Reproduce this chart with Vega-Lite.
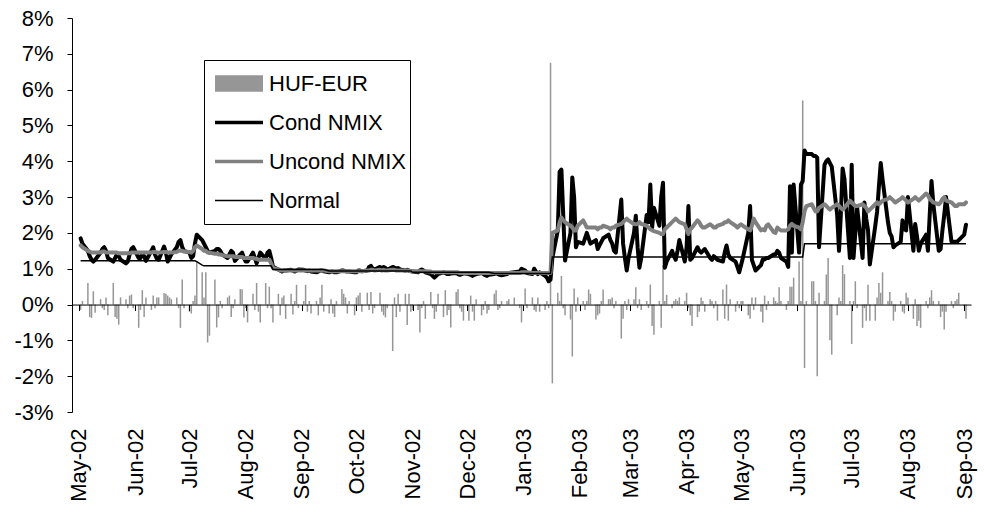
{
"$schema":"https://vega.github.io/schema/vega-lite/v6.json",
"width":899,"height":394,
"autosize":{"type":"none"},
"padding":{"left":72,"top":18,"right":14,"bottom":113},
"background":"white",
"config":{"view":{"stroke":null},"font":"Liberation Sans","axis":{"grid":false,"labelFont":"Liberation Sans","labelColor":"black"},"axisY":{"labelOverlap":false,"labelFlush":false,"labelBound":false}},
"data":{"values":[
{"d":"2002-05-02","r":-0.15,"c":1.85,"u":1.65,"n":1.22},
{"d":"2002-05-03","r":0.1,"c":1.7,"u":1.6,"n":1.22},
{"d":"2002-05-06","r":0.6,"c":1.5,"u":1.5,"n":1.22},
{"d":"2002-05-07","r":-0.35,"c":1.35,"u":1.48,"n":1.22},
{"d":"2002-05-08","r":-0.37,"c":1.25,"u":1.45,"n":1.22},
{"d":"2002-05-09","r":0.37,"c":1.2,"u":1.45,"n":1.22},
{"d":"2002-05-10","r":-0.23,"c":1.25,"u":1.45,"n":1.22},
{"d":"2002-05-13","r":0.15,"c":1.45,"u":1.45,"n":1.22},
{"d":"2002-05-14","r":-0.1,"c":1.55,"u":1.48,"n":1.22},
{"d":"2002-05-15","r":-0.15,"c":1.6,"u":1.48,"n":1.22},
{"d":"2002-05-16","r":0.2,"c":1.5,"u":1.45,"n":1.22},
{"d":"2002-05-17","r":-0.3,"c":1.3,"u":1.45,"n":1.22},
{"d":"2002-05-20","r":0.6,"c":1.2,"u":1.45,"n":1.22},
{"d":"2002-05-21","r":-0.35,"c":1.3,"u":1.45,"n":1.22},
{"d":"2002-05-22","r":-0.4,"c":1.4,"u":1.45,"n":1.22},
{"d":"2002-05-23","r":-0.56,"c":1.35,"u":1.43,"n":1.22},
{"d":"2002-05-24","r":0.2,"c":1.25,"u":1.43,"n":1.22},
{"d":"2002-05-27","r":0.15,"c":1.15,"u":1.43,"n":1.22},
{"d":"2002-05-28","r":-0.1,"c":1.2,"u":1.43,"n":1.22},
{"d":"2002-05-29","r":0.25,"c":1.4,"u":1.43,"n":1.22},
{"d":"2002-05-30","r":0.28,"c":1.55,"u":1.45,"n":1.22},
{"d":"2002-05-31","r":-0.1,"c":1.6,"u":1.45,"n":1.22},
{"d":"2002-06-03","r":-0.65,"c":1.3,"u":1.45,"n":1.22},
{"d":"2002-06-04","r":-0.15,"c":1.3,"u":1.45,"n":1.22},
{"d":"2002-06-05","r":0.4,"c":1.42,"u":1.45,"n":1.22},
{"d":"2002-06-06","r":-0.35,"c":1.35,"u":1.45,"n":1.22},
{"d":"2002-06-07","r":0.2,"c":1.22,"u":1.45,"n":1.22},
{"d":"2002-06-10","r":-0.15,"c":1.5,"u":1.45,"n":1.22},
{"d":"2002-06-11","r":0.25,"c":1.6,"u":1.47,"n":1.22},
{"d":"2002-06-12","r":-0.1,"c":1.4,"u":1.47,"n":1.22},
{"d":"2002-06-13","r":0.2,"c":1.28,"u":1.45,"n":1.22},
{"d":"2002-06-14","r":0.2,"c":1.25,"u":1.45,"n":1.22},
{"d":"2002-06-17","r":0.32,"c":1.62,"u":1.47,"n":1.22},
{"d":"2002-06-18","r":0.3,"c":1.45,"u":1.47,"n":1.22},
{"d":"2002-06-19","r":0.25,"c":1.2,"u":1.45,"n":1.22},
{"d":"2002-06-20","r":0.2,"c":1.3,"u":1.45,"n":1.22},
{"d":"2002-06-21","r":0.15,"c":1.4,"u":1.45,"n":1.22},
{"d":"2002-06-24","r":0.2,"c":1.6,"u":1.47,"n":1.22},
{"d":"2002-06-25","r":-0.1,"c":1.75,"u":1.5,"n":1.22},
{"d":"2002-06-26","r":-0.65,"c":1.8,"u":1.5,"n":1.22},
{"d":"2002-06-27","r":0.7,"c":1.6,"u":1.5,"n":1.22},
{"d":"2002-06-28","r":-0.1,"c":1.5,"u":1.48,"n":1.22},
{"d":"2002-07-01","r":-0.2,"c":1.45,"u":1.47,"n":1.22},
{"d":"2002-07-02","r":-0.25,"c":1.3,"u":1.45,"n":1.22},
{"d":"2002-07-03","r":0.1,"c":1.35,"u":1.5,"n":1.22},
{"d":"2002-07-04","r":0.25,"c":1.7,"u":1.6,"n":1.22},
{"d":"2002-07-05","r":1.2,"c":1.95,"u":1.65,"n":1.2},
{"d":"2002-07-08","r":0.9,"c":1.8,"u":1.55,"n":1.1},
{"d":"2002-07-09","r":0.2,"c":1.7,"u":1.5,"n":1.08},
{"d":"2002-07-10","r":0.9,"c":1.6,"u":1.5,"n":1.08},
{"d":"2002-07-11","r":-1.06,"c":1.5,"u":1.45,"n":1.08},
{"d":"2002-07-12","r":-0.87,"c":1.45,"u":1.45,"n":1.08},
{"d":"2002-07-15","r":0.7,"c":1.5,"u":1.42,"n":1.08},
{"d":"2002-07-16","r":-0.64,"c":1.55,"u":1.42,"n":1.08},
{"d":"2002-07-17","r":-0.36,"c":1.55,"u":1.4,"n":1.08},
{"d":"2002-07-18","r":0.1,"c":1.5,"u":1.4,"n":1.08},
{"d":"2002-07-19","r":-0.1,"c":1.4,"u":1.38,"n":1.08},
{"d":"2002-07-22","r":0.2,"c":1.3,"u":1.35,"n":1.08},
{"d":"2002-07-23","r":0.25,"c":1.4,"u":1.35,"n":1.08},
{"d":"2002-07-24","r":-0.35,"c":1.5,"u":1.35,"n":1.08},
{"d":"2002-07-25","r":-0.1,"c":1.45,"u":1.35,"n":1.08},
{"d":"2002-07-26","r":0.15,"c":1.22,"u":1.33,"n":1.08},
{"d":"2002-07-29","r":0.43,"c":1.4,"u":1.33,"n":1.08},
{"d":"2002-07-30","r":0.43,"c":1.45,"u":1.33,"n":1.08},
{"d":"2002-07-31","r":-0.36,"c":1.3,"u":1.3,"n":1.08},
{"d":"2002-08-01","r":-0.1,"c":1.2,"u":1.3,"n":1.08},
{"d":"2002-08-02","r":-0.5,"c":1.2,"u":1.3,"n":1.08},
{"d":"2002-08-05","r":0.3,"c":1.45,"u":1.3,"n":1.08},
{"d":"2002-08-06","r":-0.15,"c":1.3,"u":1.28,"n":1.08},
{"d":"2002-08-07","r":0.6,"c":1.15,"u":1.28,"n":1.08},
{"d":"2002-08-08","r":-0.2,"c":1.3,"u":1.25,"n":1.08},
{"d":"2002-08-09","r":-0.5,"c":1.45,"u":1.25,"n":1.08},
{"d":"2002-08-12","r":0.6,"c":1.28,"u":1.25,"n":1.08},
{"d":"2002-08-13","r":-0.1,"c":1.45,"u":1.25,"n":1.08},
{"d":"2002-08-14","r":0.5,"c":1.5,"u":1.25,"n":1.08},
{"d":"2002-08-15","r":-0.1,"c":1.3,"u":1.15,"n":1.08},
{"d":"2002-08-16","r":-0.5,"c":1.05,"u":1.02,"n":0.98},
{"d":"2002-08-19","r":0.3,"c":0.98,"u":0.98,"n":0.98},
{"d":"2002-08-20","r":-0.3,"c":0.95,"u":0.95,"n":0.98},
{"d":"2002-08-21","r":0.2,"c":0.92,"u":0.95,"n":0.98},
{"d":"2002-08-22","r":0.25,"c":0.95,"u":0.95,"n":0.98},
{"d":"2002-08-23","r":-0.4,"c":0.95,"u":0.95,"n":0.98},
{"d":"2002-08-26","r":0.3,"c":0.97,"u":0.95,"n":0.98},
{"d":"2002-08-27","r":-0.28,"c":0.95,"u":0.95,"n":0.98},
{"d":"2002-08-28","r":0.1,"c":0.92,"u":0.95,"n":0.98},
{"d":"2002-08-29","r":0.55,"c":0.95,"u":0.95,"n":0.98},
{"d":"2002-08-30","r":-0.1,"c":0.98,"u":0.95,"n":0.98},
{"d":"2002-09-02","r":0.1,"c":0.97,"u":0.95,"n":0.98},
{"d":"2002-09-03","r":0.55,"c":0.95,"u":0.95,"n":0.98},
{"d":"2002-09-04","r":-0.2,"c":0.93,"u":0.95,"n":0.98},
{"d":"2002-09-05","r":0.1,"c":0.95,"u":0.95,"n":0.98},
{"d":"2002-09-06","r":-0.25,"c":0.92,"u":0.95,"n":0.98},
{"d":"2002-09-09","r":0.1,"c":0.9,"u":0.95,"n":0.98},
{"d":"2002-09-10","r":-0.3,"c":0.92,"u":0.95,"n":0.98},
{"d":"2002-09-11","r":0.2,"c":0.95,"u":0.95,"n":0.98},
{"d":"2002-09-12","r":0.55,"c":0.95,"u":0.95,"n":0.98},
{"d":"2002-09-13","r":-0.2,"c":0.93,"u":0.95,"n":0.98},
{"d":"2002-09-16","r":-0.25,"c":0.9,"u":0.93,"n":0.94},
{"d":"2002-09-17","r":0.15,"c":0.92,"u":0.93,"n":0.94},
{"d":"2002-09-18","r":-0.25,"c":0.92,"u":0.93,"n":0.94},
{"d":"2002-09-19","r":-0.35,"c":0.9,"u":0.93,"n":0.94},
{"d":"2002-09-20","r":0.1,"c":0.9,"u":0.93,"n":0.94},
{"d":"2002-09-23","r":0.43,"c":0.95,"u":0.93,"n":0.94},
{"d":"2002-09-24","r":0.3,"c":0.95,"u":0.93,"n":0.94},
{"d":"2002-09-25","r":0.2,"c":0.93,"u":0.93,"n":0.94},
{"d":"2002-09-26","r":-0.25,"c":0.92,"u":0.93,"n":0.94},
{"d":"2002-09-27","r":0.1,"c":0.92,"u":0.93,"n":0.94},
{"d":"2002-09-30","r":-0.3,"c":0.9,"u":0.93,"n":0.94},
{"d":"2002-10-01","r":0.2,"c":0.9,"u":0.93,"n":0.94},
{"d":"2002-10-02","r":0.25,"c":0.95,"u":0.93,"n":0.94},
{"d":"2002-10-03","r":0.33,"c":0.95,"u":0.93,"n":0.94},
{"d":"2002-10-04","r":-0.2,"c":0.93,"u":0.93,"n":0.94},
{"d":"2002-10-07","r":0.33,"c":0.95,"u":0.95,"n":0.94},
{"d":"2002-10-08","r":-0.15,"c":1.05,"u":0.95,"n":0.94},
{"d":"2002-10-09","r":0.35,"c":1.08,"u":0.97,"n":0.94},
{"d":"2002-10-10","r":-0.25,"c":1.0,"u":0.97,"n":0.94},
{"d":"2002-10-11","r":-0.1,"c":0.98,"u":0.95,"n":0.94},
{"d":"2002-10-14","r":0.33,"c":1.05,"u":0.97,"n":0.94},
{"d":"2002-10-15","r":-0.2,"c":1.0,"u":0.95,"n":0.94},
{"d":"2002-10-16","r":-0.3,"c":1.05,"u":0.97,"n":0.94},
{"d":"2002-10-17","r":-0.36,"c":1.02,"u":0.95,"n":0.94},
{"d":"2002-10-18","r":-0.1,"c":0.97,"u":0.95,"n":0.94},
{"d":"2002-10-21","r":-1.3,"c":1.05,"u":0.97,"n":0.94},
{"d":"2002-10-22","r":0.2,"c":1.03,"u":0.97,"n":0.94},
{"d":"2002-10-23","r":-0.35,"c":1.0,"u":0.95,"n":0.94},
{"d":"2002-10-24","r":0.3,"c":1.02,"u":0.95,"n":0.94},
{"d":"2002-10-25","r":-0.2,"c":0.98,"u":0.95,"n":0.94},
{"d":"2002-10-28","r":0.3,"c":0.95,"u":0.95,"n":0.94},
{"d":"2002-10-29","r":-0.57,"c":0.97,"u":0.95,"n":0.94},
{"d":"2002-10-30","r":0.3,"c":0.95,"u":0.95,"n":0.94},
{"d":"2002-10-31","r":-0.2,"c":0.93,"u":0.93,"n":0.94},
{"d":"2002-11-01","r":-0.15,"c":0.92,"u":0.93,"n":0.9},
{"d":"2002-11-04","r":-0.15,"c":0.9,"u":0.93,"n":0.9},
{"d":"2002-11-05","r":-0.78,"c":0.95,"u":0.93,"n":0.9},
{"d":"2002-11-06","r":-0.1,"c":0.98,"u":0.93,"n":0.9},
{"d":"2002-11-07","r":0.1,"c":0.95,"u":0.93,"n":0.9},
{"d":"2002-11-08","r":-0.4,"c":0.9,"u":0.93,"n":0.9},
{"d":"2002-11-11","r":0.35,"c":0.85,"u":0.92,"n":0.9},
{"d":"2002-11-12","r":-0.1,"c":0.8,"u":0.9,"n":0.9},
{"d":"2002-11-13","r":-0.4,"c":0.75,"u":0.9,"n":0.9},
{"d":"2002-11-14","r":-0.2,"c":0.8,"u":0.9,"n":0.9},
{"d":"2002-11-15","r":0.3,"c":0.85,"u":0.9,"n":0.9},
{"d":"2002-11-18","r":-0.35,"c":0.9,"u":0.9,"n":0.9},
{"d":"2002-11-19","r":0.4,"c":0.88,"u":0.9,"n":0.9},
{"d":"2002-11-20","r":-0.3,"c":0.85,"u":0.9,"n":0.9},
{"d":"2002-11-21","r":-0.15,"c":0.85,"u":0.9,"n":0.9},
{"d":"2002-11-22","r":-0.64,"c":0.87,"u":0.9,"n":0.9},
{"d":"2002-11-25","r":0.35,"c":0.88,"u":0.9,"n":0.9},
{"d":"2002-11-26","r":0.43,"c":0.85,"u":0.9,"n":0.9},
{"d":"2002-11-27","r":-0.1,"c":0.83,"u":0.88,"n":0.9},
{"d":"2002-11-28","r":-0.2,"c":0.85,"u":0.88,"n":0.9},
{"d":"2002-11-29","r":-0.45,"c":0.87,"u":0.88,"n":0.9},
{"d":"2002-12-02","r":-0.45,"c":0.85,"u":0.88,"n":0.9},
{"d":"2002-12-03","r":0.25,"c":0.83,"u":0.88,"n":0.9},
{"d":"2002-12-04","r":-0.2,"c":0.8,"u":0.88,"n":0.9},
{"d":"2002-12-05","r":-0.45,"c":0.83,"u":0.88,"n":0.9},
{"d":"2002-12-06","r":0.15,"c":0.85,"u":0.88,"n":0.9},
{"d":"2002-12-09","r":-0.3,"c":0.88,"u":0.88,"n":0.9},
{"d":"2002-12-10","r":-0.15,"c":0.85,"u":0.88,"n":0.9},
{"d":"2002-12-11","r":0.1,"c":0.82,"u":0.88,"n":0.9},
{"d":"2002-12-12","r":-0.25,"c":0.8,"u":0.88,"n":0.9},
{"d":"2002-12-13","r":-0.15,"c":0.83,"u":0.88,"n":0.9},
{"d":"2002-12-16","r":0.3,"c":0.85,"u":0.88,"n":0.87},
{"d":"2002-12-17","r":0.4,"c":0.88,"u":0.88,"n":0.87},
{"d":"2002-12-18","r":-0.15,"c":0.85,"u":0.88,"n":0.87},
{"d":"2002-12-19","r":-0.1,"c":0.83,"u":0.88,"n":0.87},
{"d":"2002-12-20","r":0.1,"c":0.82,"u":0.88,"n":0.87},
{"d":"2002-12-23","r":0.1,"c":0.85,"u":0.88,"n":0.87},
{"d":"2002-12-24","r":0.15,"c":0.88,"u":0.88,"n":0.87},
{"d":"2002-12-27","r":0.2,"c":0.9,"u":0.88,"n":0.87},
{"d":"2002-12-30","r":-0.1,"c":0.92,"u":0.88,"n":0.87},
{"d":"2002-12-31","r":-0.5,"c":1.0,"u":0.9,"n":0.87},
{"d":"2003-01-02","r":0.45,"c":0.95,"u":0.9,"n":0.87},
{"d":"2003-01-03","r":-0.1,"c":0.88,"u":0.9,"n":0.87},
{"d":"2003-01-06","r":0.2,"c":0.85,"u":0.88,"n":0.87},
{"d":"2003-01-07","r":-0.15,"c":1.0,"u":0.88,"n":0.87},
{"d":"2003-01-08","r":-0.2,"c":0.92,"u":0.88,"n":0.87},
{"d":"2003-01-09","r":0.2,"c":0.85,"u":0.88,"n":0.87},
{"d":"2003-01-10","r":-0.2,"c":0.9,"u":0.88,"n":0.87},
{"d":"2003-01-13","r":-0.15,"c":0.8,"u":0.88,"n":0.87},
{"d":"2003-01-14","r":0.1,"c":0.75,"u":0.88,"n":0.87},
{"d":"2003-01-15","r":-0.1,"c":0.65,"u":0.88,"n":0.87},
{"d":"2003-01-16","r":6.75,"c":0.7,"u":0.88,"n":0.87},
{"d":"2003-01-17","r":-2.2,"c":1.3,"u":2.0,"n":1.33},
{"d":"2003-01-20","r":0.33,"c":2.07,"u":2.07,"n":1.33},
{"d":"2003-01-21","r":0.1,"c":3.7,"u":2.3,"n":1.33},
{"d":"2003-01-22","r":0.8,"c":3.77,"u":2.43,"n":1.33},
{"d":"2003-01-23","r":-0.1,"c":2.5,"u":2.35,"n":1.33},
{"d":"2003-01-24","r":-0.3,"c":1.23,"u":2.3,"n":1.33},
{"d":"2003-01-27","r":-0.42,"c":2.0,"u":2.2,"n":1.33},
{"d":"2003-01-28","r":-1.45,"c":3.55,"u":2.15,"n":1.33},
{"d":"2003-01-29","r":0.45,"c":3.0,"u":2.07,"n":1.33},
{"d":"2003-01-30","r":-0.2,"c":1.6,"u":2.07,"n":1.33},
{"d":"2003-01-31","r":0.2,"c":1.75,"u":2.2,"n":1.33},
{"d":"2003-02-03","r":0.1,"c":1.7,"u":2.35,"n":1.33},
{"d":"2003-02-04","r":-0.15,"c":1.85,"u":2.25,"n":1.33},
{"d":"2003-02-05","r":0.1,"c":2.0,"u":2.15,"n":1.33},
{"d":"2003-02-06","r":0.42,"c":1.85,"u":2.15,"n":1.33},
{"d":"2003-02-07","r":0.3,"c":1.7,"u":2.15,"n":1.33},
{"d":"2003-02-10","r":-0.42,"c":1.8,"u":2.15,"n":1.33},
{"d":"2003-02-11","r":-0.3,"c":1.55,"u":2.1,"n":1.33},
{"d":"2003-02-12","r":-0.25,"c":1.65,"u":2.15,"n":1.33},
{"d":"2003-02-13","r":0.1,"c":1.75,"u":2.15,"n":1.33},
{"d":"2003-02-14","r":0.42,"c":1.85,"u":2.2,"n":1.33},
{"d":"2003-02-17","r":0.15,"c":1.95,"u":2.15,"n":1.33},
{"d":"2003-02-18","r":0.15,"c":1.8,"u":2.1,"n":1.33},
{"d":"2003-02-19","r":0.2,"c":1.7,"u":2.15,"n":1.33},
{"d":"2003-02-20","r":-0.1,"c":1.5,"u":2.15,"n":1.33},
{"d":"2003-02-21","r":0.1,"c":1.45,"u":2.2,"n":1.33},
{"d":"2003-02-24","r":-0.95,"c":2.93,"u":2.25,"n":1.33},
{"d":"2003-02-25","r":-0.4,"c":1.7,"u":2.3,"n":1.33},
{"d":"2003-02-26","r":0.1,"c":1.3,"u":2.35,"n":1.33},
{"d":"2003-02-27","r":-0.15,"c":0.95,"u":2.4,"n":1.33},
{"d":"2003-02-28","r":0.15,"c":1.3,"u":2.35,"n":1.33},
{"d":"2003-03-03","r":0.15,"c":2.0,"u":2.25,"n":1.33},
{"d":"2003-03-04","r":0.48,"c":2.48,"u":2.24,"n":1.33},
{"d":"2003-03-05","r":-0.1,"c":1.6,"u":2.25,"n":1.33},
{"d":"2003-03-06","r":0.15,"c":1.03,"u":2.3,"n":1.33},
{"d":"2003-03-07","r":-0.15,"c":1.3,"u":2.25,"n":1.33},
{"d":"2003-03-10","r":0.1,"c":2.5,"u":2.2,"n":1.33},
{"d":"2003-03-11","r":-0.1,"c":2.3,"u":2.15,"n":1.33},
{"d":"2003-03-12","r":0.56,"c":3.35,"u":2.1,"n":1.33},
{"d":"2003-03-13","r":-0.6,"c":2.15,"u":2.07,"n":1.33},
{"d":"2003-03-14","r":-0.84,"c":2.7,"u":2.05,"n":1.33},
{"d":"2003-03-17","r":0.1,"c":2.2,"u":2.0,"n":1.33},
{"d":"2003-03-18","r":-0.65,"c":3.0,"u":1.97,"n":1.33},
{"d":"2003-03-19","r":1.1,"c":3.4,"u":1.97,"n":1.33},
{"d":"2003-03-20","r":0.1,"c":1.03,"u":2.1,"n":1.33},
{"d":"2003-03-21","r":0.27,"c":1.2,"u":2.15,"n":1.33},
{"d":"2003-03-24","r":-0.1,"c":1.5,"u":2.3,"n":1.33},
{"d":"2003-03-25","r":0.1,"c":1.35,"u":2.35,"n":1.33},
{"d":"2003-03-26","r":0.15,"c":1.25,"u":2.4,"n":1.33},
{"d":"2003-03-27","r":0.1,"c":1.5,"u":2.35,"n":1.33},
{"d":"2003-03-28","r":0.2,"c":1.8,"u":2.3,"n":1.33},
{"d":"2003-03-31","r":0.1,"c":1.2,"u":2.24,"n":1.33},
{"d":"2003-04-01","r":0.33,"c":1.6,"u":2.1,"n":1.33},
{"d":"2003-04-02","r":-0.1,"c":2.75,"u":1.97,"n":1.33},
{"d":"2003-04-03","r":-0.3,"c":1.25,"u":2.1,"n":1.33},
{"d":"2003-04-04","r":-0.6,"c":1.3,"u":2.15,"n":1.33},
{"d":"2003-04-07","r":-0.35,"c":1.6,"u":2.35,"n":1.33},
{"d":"2003-04-08","r":-0.2,"c":1.5,"u":2.3,"n":1.33},
{"d":"2003-04-09","r":0.2,"c":1.45,"u":2.2,"n":1.33},
{"d":"2003-04-10","r":0.1,"c":1.5,"u":2.15,"n":1.33},
{"d":"2003-04-11","r":-0.2,"c":1.55,"u":2.15,"n":1.33},
{"d":"2003-04-14","r":0.15,"c":1.3,"u":2.24,"n":1.33},
{"d":"2003-04-15","r":0.1,"c":1.25,"u":2.2,"n":1.33},
{"d":"2003-04-16","r":-0.1,"c":1.35,"u":2.15,"n":1.33},
{"d":"2003-04-17","r":0.1,"c":1.3,"u":2.15,"n":1.33},
{"d":"2003-04-18","r":-0.45,"c":1.25,"u":2.2,"n":1.33},
{"d":"2003-04-21","r":0.42,"c":1.2,"u":2.25,"n":1.33},
{"d":"2003-04-22","r":-0.4,"c":1.45,"u":2.3,"n":1.33},
{"d":"2003-04-23","r":0.56,"c":1.65,"u":2.3,"n":1.33},
{"d":"2003-04-24","r":-0.45,"c":1.4,"u":2.35,"n":1.33},
{"d":"2003-04-25","r":0.15,"c":1.3,"u":2.3,"n":1.33},
{"d":"2003-04-28","r":-0.2,"c":1.2,"u":2.2,"n":1.33},
{"d":"2003-04-29","r":0.1,"c":1.05,"u":2.15,"n":1.33},
{"d":"2003-04-30","r":-0.1,"c":0.9,"u":2.2,"n":1.33},
{"d":"2003-05-01","r":0.1,"c":1.1,"u":2.24,"n":1.33},
{"d":"2003-05-02","r":0.1,"c":1.3,"u":2.2,"n":1.33},
{"d":"2003-05-05","r":-0.3,"c":2.0,"u":2.1,"n":1.33},
{"d":"2003-05-06","r":-0.4,"c":2.75,"u":2.07,"n":1.33},
{"d":"2003-05-07","r":0.2,"c":1.25,"u":2.2,"n":1.33},
{"d":"2003-05-08","r":-0.15,"c":1.1,"u":2.4,"n":1.33},
{"d":"2003-05-09","r":0.2,"c":0.95,"u":2.3,"n":1.33},
{"d":"2003-05-12","r":-0.2,"c":1.1,"u":2.07,"n":1.33},
{"d":"2003-05-13","r":-0.5,"c":1.26,"u":2.1,"n":1.33},
{"d":"2003-05-14","r":0.25,"c":1.26,"u":2.07,"n":1.33},
{"d":"2003-05-15","r":-0.15,"c":1.3,"u":2.2,"n":1.33},
{"d":"2003-05-16","r":0.1,"c":1.3,"u":2.24,"n":1.33},
{"d":"2003-05-19","r":0.2,"c":1.4,"u":2.02,"n":1.33},
{"d":"2003-05-20","r":0.1,"c":1.4,"u":2.0,"n":1.33},
{"d":"2003-05-21","r":0.05,"c":1.5,"u":2.15,"n":1.33},
{"d":"2003-05-22","r":0.48,"c":1.45,"u":2.1,"n":1.33},
{"d":"2003-05-23","r":0.1,"c":1.3,"u":2.07,"n":1.33},
{"d":"2003-05-26","r":-0.15,"c":1.2,"u":2.07,"n":1.33},
{"d":"2003-05-27","r":0.1,"c":1.05,"u":2.1,"n":1.33},
{"d":"2003-05-28","r":0.5,"c":3.3,"u":2.2,"n":1.33},
{"d":"2003-05-29","r":0.5,"c":1.45,"u":2.25,"n":1.33},
{"d":"2003-05-30","r":0.75,"c":3.35,"u":2.2,"n":1.33},
{"d":"2003-06-02","r":1.2,"c":1.45,"u":2.15,"n":1.33},
{"d":"2003-06-03","r":0.1,"c":3.35,"u":2.1,"n":1.33},
{"d":"2003-06-04","r":5.7,"c":3.45,"u":2.3,"n":1.33},
{"d":"2003-06-05","r":-1.77,"c":4.3,"u":2.6,"n":1.7},
{"d":"2003-06-06","r":0.1,"c":4.2,"u":2.75,"n":1.7},
{"d":"2003-06-09","r":0.65,"c":4.2,"u":2.8,"n":1.7},
{"d":"2003-06-10","r":0.65,"c":4.15,"u":2.7,"n":1.7},
{"d":"2003-06-11","r":0.1,"c":4.15,"u":2.6,"n":1.7},
{"d":"2003-06-12","r":-2.0,"c":4.1,"u":2.6,"n":1.7},
{"d":"2003-06-13","r":0.33,"c":1.6,"u":2.7,"n":1.7},
{"d":"2003-06-16","r":0.1,"c":3.9,"u":2.8,"n":1.7},
{"d":"2003-06-17","r":0.84,"c":4.0,"u":2.75,"n":1.7},
{"d":"2003-06-18","r":1.3,"c":4.05,"u":2.7,"n":1.7},
{"d":"2003-06-19","r":-1.0,"c":3.95,"u":2.65,"n":1.7},
{"d":"2003-06-20","r":-1.4,"c":3.85,"u":2.7,"n":1.7},
{"d":"2003-06-23","r":-0.3,"c":2.5,"u":2.8,"n":1.7},
{"d":"2003-06-24","r":0.2,"c":1.5,"u":2.75,"n":1.7},
{"d":"2003-06-25","r":0.1,"c":2.5,"u":2.7,"n":1.7},
{"d":"2003-06-26","r":1.1,"c":3.8,"u":2.65,"n":1.7},
{"d":"2003-06-27","r":0.85,"c":3.5,"u":2.7,"n":1.7},
{"d":"2003-06-30","r":0.1,"c":1.3,"u":2.9,"n":1.7},
{"d":"2003-07-01","r":-1.1,"c":3.9,"u":2.85,"n":1.7},
{"d":"2003-07-02","r":0.1,"c":1.3,"u":2.8,"n":1.7},
{"d":"2003-07-03","r":0.65,"c":2.0,"u":2.75,"n":1.7},
{"d":"2003-07-04","r":-0.1,"c":2.7,"u":2.75,"n":1.7},
{"d":"2003-07-07","r":-0.65,"c":1.3,"u":2.8,"n":1.7},
{"d":"2003-07-08","r":-0.1,"c":2.85,"u":2.75,"n":1.7},
{"d":"2003-07-09","r":-0.45,"c":2.4,"u":2.7,"n":1.7},
{"d":"2003-07-10","r":0.55,"c":2.07,"u":2.6,"n":1.7},
{"d":"2003-07-11","r":-0.45,"c":1.12,"u":2.65,"n":1.7},
{"d":"2003-07-14","r":-0.45,"c":2.2,"u":2.8,"n":1.7},
{"d":"2003-07-15","r":0.2,"c":2.6,"u":2.85,"n":1.7},
{"d":"2003-07-16","r":0.6,"c":3.3,"u":2.8,"n":1.7},
{"d":"2003-07-17","r":0.33,"c":3.95,"u":2.85,"n":1.7},
{"d":"2003-07-18","r":0.9,"c":3.5,"u":2.9,"n":1.7},
{"d":"2003-07-21","r":0.1,"c":2.3,"u":2.95,"n":1.7},
{"d":"2003-07-22","r":0.35,"c":2.0,"u":3.0,"n":1.7},
{"d":"2003-07-23","r":0.1,"c":1.9,"u":2.95,"n":1.7},
{"d":"2003-07-24","r":-0.45,"c":1.6,"u":2.9,"n":1.7},
{"d":"2003-07-25","r":-0.2,"c":1.65,"u":2.85,"n":1.7},
{"d":"2003-07-28","r":0.1,"c":1.75,"u":2.95,"n":1.7},
{"d":"2003-07-29","r":-0.2,"c":2.35,"u":3.0,"n":1.7},
{"d":"2003-07-30","r":-0.25,"c":2.1,"u":2.95,"n":1.7},
{"d":"2003-07-31","r":0.33,"c":2.07,"u":2.9,"n":1.7},
{"d":"2003-08-01","r":0.2,"c":3.0,"u":2.85,"n":1.7},
{"d":"2003-08-04","r":-0.4,"c":1.5,"u":2.95,"n":1.7},
{"d":"2003-08-05","r":0.15,"c":2.25,"u":3.0,"n":1.7},
{"d":"2003-08-06","r":-0.6,"c":1.9,"u":2.95,"n":1.7},
{"d":"2003-08-07","r":-0.45,"c":1.5,"u":2.9,"n":1.7},
{"d":"2003-08-08","r":-0.65,"c":1.7,"u":2.95,"n":1.7},
{"d":"2003-08-11","r":0.1,"c":1.95,"u":3.1,"n":1.7},
{"d":"2003-08-12","r":-0.1,"c":1.5,"u":3.05,"n":1.7},
{"d":"2003-08-13","r":0.2,"c":2.5,"u":2.95,"n":1.7},
{"d":"2003-08-14","r":0.4,"c":3.45,"u":2.9,"n":1.7},
{"d":"2003-08-15","r":0.1,"c":2.8,"u":2.85,"n":1.7},
{"d":"2003-08-18","r":0.1,"c":1.5,"u":2.8,"n":1.7},
{"d":"2003-08-19","r":-0.35,"c":1.55,"u":2.85,"n":1.7},
{"d":"2003-08-20","r":-0.2,"c":2.07,"u":2.95,"n":1.7},
{"d":"2003-08-21","r":-0.7,"c":2.5,"u":3.0,"n":1.7},
{"d":"2003-08-22","r":-0.2,"c":3.0,"u":2.9,"n":1.7},
{"d":"2003-08-25","r":0.1,"c":1.75,"u":2.85,"n":1.7},
{"d":"2003-08-26","r":-0.1,"c":1.75,"u":2.8,"n":1.7},
{"d":"2003-08-27","r":0.1,"c":1.75,"u":2.75,"n":1.7},
{"d":"2003-08-28","r":0.15,"c":1.75,"u":2.75,"n":1.7},
{"d":"2003-08-29","r":0.33,"c":1.8,"u":2.8,"n":1.7},
{"d":"2003-09-01","r":-0.05,"c":1.95,"u":2.8,"n":1.7},
{"d":"2003-09-02","r":-0.4,"c":2.23,"u":2.85,"n":1.7}
]},
"layer":[
{"mark":{"type":"bar","size":1.5},
 "encoding":{
  "x":{"field":"d","type":"temporal",
   "scale":{"type":"utc","domain":[{"year":2002,"month":4,"date":30,"utc":true},{"year":2003,"month":9,"date":2,"utc":true}]},
   "axis":{"orient":"bottom","title":null,"values":[
     {"year":2002,"month":5,"date":1,"utc":true},{"year":2002,"month":6,"date":1,"utc":true},{"year":2002,"month":7,"date":1,"utc":true},{"year":2002,"month":8,"date":1,"utc":true},{"year":2002,"month":9,"date":1,"utc":true},{"year":2002,"month":10,"date":1,"utc":true},{"year":2002,"month":11,"date":1,"utc":true},{"year":2002,"month":12,"date":1,"utc":true},{"year":2003,"month":1,"date":1,"utc":true},{"year":2003,"month":2,"date":1,"utc":true},{"year":2003,"month":3,"date":1,"utc":true},{"year":2003,"month":4,"date":1,"utc":true},{"year":2003,"month":5,"date":1,"utc":true},{"year":2003,"month":6,"date":1,"utc":true},{"year":2003,"month":7,"date":1,"utc":true},{"year":2003,"month":8,"date":1,"utc":true},{"year":2003,"month":9,"date":1,"utc":true}],
    "format":"%b-%y","labelAngle":-90,"labelFontSize":22,"labelPadding":16,"ticks":false,"tickSize":0,"domain":false,"labelOverlap":false,"labelFlush":false,"labelBound":false}},
  "y":{"field":"r","type":"quantitative","stack":null,"scale":{"domain":[-3,8],"nice":false,"zero":false},
   "axis":{"title":null,"values":[-3,-2,-1,0,1,2,3,4,5,6,7,8],"labelExpr":"datum.value + '%'","labelFontSize":22,"labelPadding":14,"tickSize":5,"tickColor":"black","domainColor":"black","labelFlush":false,"labelOverlap":false,"labelBound":false}},
  "color":{"datum":"HUF-EUR","type":"nominal",
   "scale":{"domain":["HUF-EUR","Cond NMIX","Uncond NMIX","Normal"],"range":["#969696","#000000","#808080","#000000"]},
   "legend":{"title":null,"orient":"none","legendX":132,"legendY":42,"strokeColor":"black","fillColor":"white","padding":4,
    "labelFont":"Liberation Sans","labelFontSize":22,"labelColor":"black","labelOffset":19,"labelLimit":300,
    "symbolSize":484,"symbolOffset":20,"clipHeight":39,"rowPadding":0,
    "encode":{"symbols":{"update":{
      "size":{"value":484},
      "shape":{"signal":"datum.value === 'HUF-EUR' ? 'M-2.18,-0.76H2.18V0.76H-2.18Z' : (datum.value === 'Normal' ? 'M-2.18,-0.07H2.18V0.07H-2.18Z' : 'M-2.18,-0.15H2.18V0.15H-2.18Z')"},
      "fill":{"signal":"datum.value === 'HUF-EUR' ? '#969696' : (datum.value === 'Uncond NMIX' ? '#808080' : '#000000')"},
      "stroke":{"value":"transparent"},
      "strokeWidth":{"value":0},
      "opacity":{"value":1}}}}}}
 }},
{"mark":{"type":"line","strokeWidth":4,"strokeJoin":"round","strokeCap":"round"},
 "encoding":{
  "x":{"field":"d","type":"temporal",
   "axis":{"orient":"bottom","title":null,"offset":-107.45,"labels":false,"ticks":true,"tickSize":6,"tickColor":"black","domain":true,"domainColor":"black","zindex":1,"values":[
     {"year":2002,"month":5,"date":1,"utc":true},{"year":2002,"month":6,"date":1,"utc":true},{"year":2002,"month":7,"date":1,"utc":true},{"year":2002,"month":8,"date":1,"utc":true},{"year":2002,"month":9,"date":1,"utc":true},{"year":2002,"month":10,"date":1,"utc":true},{"year":2002,"month":11,"date":1,"utc":true},{"year":2002,"month":12,"date":1,"utc":true},{"year":2003,"month":1,"date":1,"utc":true},{"year":2003,"month":2,"date":1,"utc":true},{"year":2003,"month":3,"date":1,"utc":true},{"year":2003,"month":4,"date":1,"utc":true},{"year":2003,"month":5,"date":1,"utc":true},{"year":2003,"month":6,"date":1,"utc":true},{"year":2003,"month":7,"date":1,"utc":true},{"year":2003,"month":8,"date":1,"utc":true},{"year":2003,"month":9,"date":1,"utc":true}]}},
  "y":{"field":"c","type":"quantitative","axis":{"title":null,"values":[-3,-2,-1,0,1,2,3,4,5,6,7,8],"labelExpr":"datum.value + '%'","labelFontSize":22,"labelPadding":14,"tickSize":5,"tickColor":"black","domainColor":"black","labelFlush":false,"labelOverlap":false,"labelBound":false}},
  "color":{"datum":"Cond NMIX","type":"nominal"}
 }},
{"mark":{"type":"line","strokeWidth":4,"strokeJoin":"round","strokeCap":"round"},
 "encoding":{
  "x":{"field":"d","type":"temporal","axis":null},
  "y":{"field":"u","type":"quantitative","axis":{"title":null,"values":[-3,-2,-1,0,1,2,3,4,5,6,7,8],"labelExpr":"datum.value + '%'","labelFontSize":22,"labelPadding":14,"tickSize":5,"tickColor":"black","domainColor":"black","labelFlush":false,"labelOverlap":false,"labelBound":false}},
  "color":{"datum":"Uncond NMIX","type":"nominal"}
 }},
{"mark":{"type":"line","strokeWidth":1.5},
 "encoding":{
  "x":{"field":"d","type":"temporal","axis":null},
  "y":{"field":"n","type":"quantitative","axis":{"title":null,"values":[-3,-2,-1,0,1,2,3,4,5,6,7,8],"labelExpr":"datum.value + '%'","labelFontSize":22,"labelPadding":14,"tickSize":5,"tickColor":"black","domainColor":"black","labelFlush":false,"labelOverlap":false,"labelBound":false}},
  "color":{"datum":"Normal","type":"nominal"}
 }}
],
"resolve":{"axis":{"x":"independent"}}
}
